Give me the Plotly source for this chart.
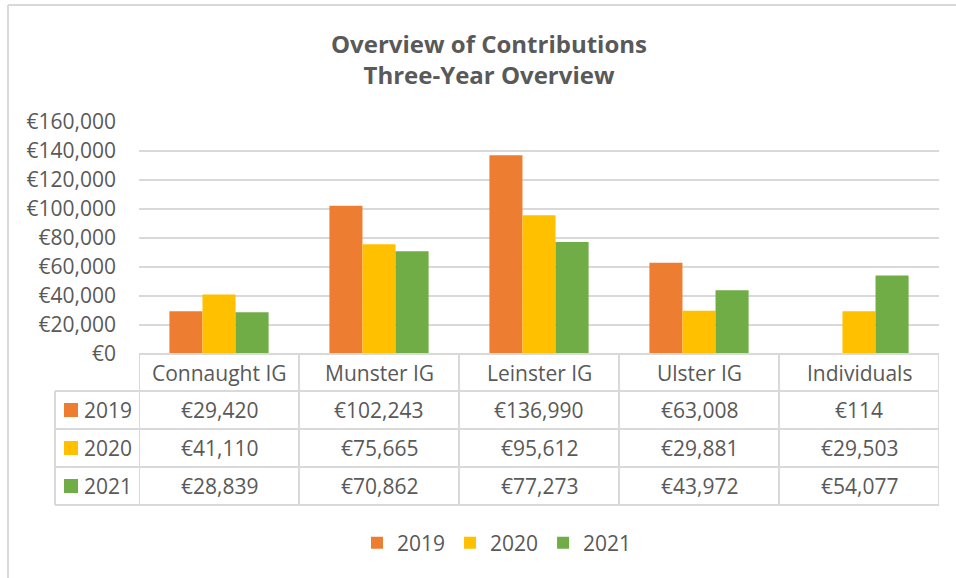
import plotly.graph_objects as go

# --- Data ---
categories = ["Connaught IG", "Munster IG", "Leinster IG", "Ulster IG", "Individuals"]
years = ["2019", "2020", "2021"]
values_2019 = [29420, 102243, 136990, 63008, 114]
values_2020 = [41110, 75665, 95612, 29881, 29503]
values_2021 = [28839, 70862, 77273, 43972, 54077]
y_ticks = [0, 20000, 40000, 60000, 80000, 100000, 120000, 140000, 160000]
y_tick_labels = [f"€{v:,}" for v in y_ticks]

series = [values_2019, values_2020, values_2021]
colors = ["#ED7D31", "#FFC000", "#70AD47"]

TEXT = "#595959"
GRID = "#D9D9D9"
FONT = "Open Sans"
SIZE = 21

# --- Geometry (pixels) ---
W, H = 956, 578
L, R, T, B = 139, 17, 122, 224
PW, PH = W - L - R, H - T - B


def px_x(px):
    return (px - L) / PW


def px_y(py):
    return (T + PH - py) / PH


def label(x, y, text, xref="paper", xanchor="center", size=SIZE, bold=False):
    return dict(x=x, xref=xref, y=y, yref="paper", text=f"<b>{text}</b>" if bold else text,
                showarrow=False, xanchor=xanchor, yanchor="middle",
                font=dict(size=size, color=TEXT, family=FONT))


fig = go.Figure()

for year, vals, col in zip(years, series, colors):
    fig.add_trace(go.Bar(
        x=categories,
        y=vals,
        name=year,
        marker=dict(color=col, line=dict(width=0)),
        hoverinfo="x+y+name",
    ))

shapes = []
annotations = []

# --- Data table under the plot ---
row_lines = [354, 391, 429, 467, 505]
left_px = 55
line_style = dict(color=GRID, width=2)
for i, py in enumerate(row_lines):
    x0 = 0 if i == 0 else px_x(left_px)
    shapes.append(dict(type="line", xref="paper", yref="paper",
                       x0=x0, x1=1, y0=px_y(py), y1=px_y(py), line=line_style))
for k in range(len(categories) + 1):
    shapes.append(dict(type="line", xref="x", yref="paper",
                       x0=k - 0.5, x1=k - 0.5,
                       y0=px_y(row_lines[0]), y1=px_y(row_lines[-1]), line=line_style))
shapes.append(dict(type="line", xref="paper", yref="paper",
                   x0=px_x(left_px), x1=px_x(left_px),
                   y0=px_y(row_lines[1]), y1=px_y(row_lines[-1]), line=line_style))

# header row
for k, cat in enumerate(categories):
    annotations.append(label(k, px_y((row_lines[0] + row_lines[1]) / 2), cat, xref="x"))

# value rows
for r, (year, vals, col) in enumerate(zip(years, series, colors)):
    sy = (row_lines[r + 1] + row_lines[r + 2]) / 2
    for k, v in enumerate(vals):
        annotations.append(label(k, px_y(sy), f"€{v:,}", xref="x"))
    # legend key in the row header
    shapes.append(dict(type="rect", xref="paper", yref="paper",
                       x0=px_x(64), x1=px_x(78), y0=px_y(sy - 7), y1=px_y(sy + 7),
                       fillcolor=col, line=dict(width=0)))
    annotations.append(label(px_x(82), px_y(sy), year, xanchor="left"))

# --- Title (two lines, one text) ---
annotations.append(label(px_x(489), px_y(59),
                         "<b>Overview of Contributions<br>Three-Year Overview</b>", size=24))

# --- Chart border (left and top only; image is cropped) ---
shapes.append(dict(type="line", xref="paper", yref="paper",
                   x0=px_x(8), x1=px_x(W + 5), y0=px_y(5), y1=px_y(5), line=line_style))
shapes.append(dict(type="line", xref="paper", yref="paper",
                   x0=px_x(8), x1=px_x(8), y0=px_y(5), y1=px_y(H + 5), line=line_style))

fig.update_layout(
    width=W,
    height=H,
    margin=dict(l=L, r=R, t=T, b=B, autoexpand=False),
    paper_bgcolor="white",
    plot_bgcolor="white",
    barmode="group",
    bargap=0.38,
    bargroupgap=0,
    font=dict(family=FONT, size=SIZE, color=TEXT),
    xaxis=dict(range=[-0.5, 4.5], showticklabels=False, showgrid=False,
               showline=False, ticks="", fixedrange=True),
    yaxis=dict(range=[0, 160000], tickmode="array", tickvals=y_ticks,
               ticktext=y_tick_labels,
               showgrid=True, gridcolor=GRID, gridwidth=1.5,
               zeroline=False, showline=False, ticks="",
               ticklabelstandoff=22,
               tickfont=dict(size=SIZE, color=TEXT, family=FONT)),
    legend=dict(orientation="h", x=px_x(497), xanchor="center",
                y=px_y(543), yanchor="middle",
                font=dict(size=SIZE, color=TEXT, family=FONT),
                itemwidth=30, traceorder="normal"),
    shapes=shapes,
    annotations=annotations,
)

fig.write_html("out.html", config={"displayModeBar": False},
               post_script="document.body.style.margin='0px';")
